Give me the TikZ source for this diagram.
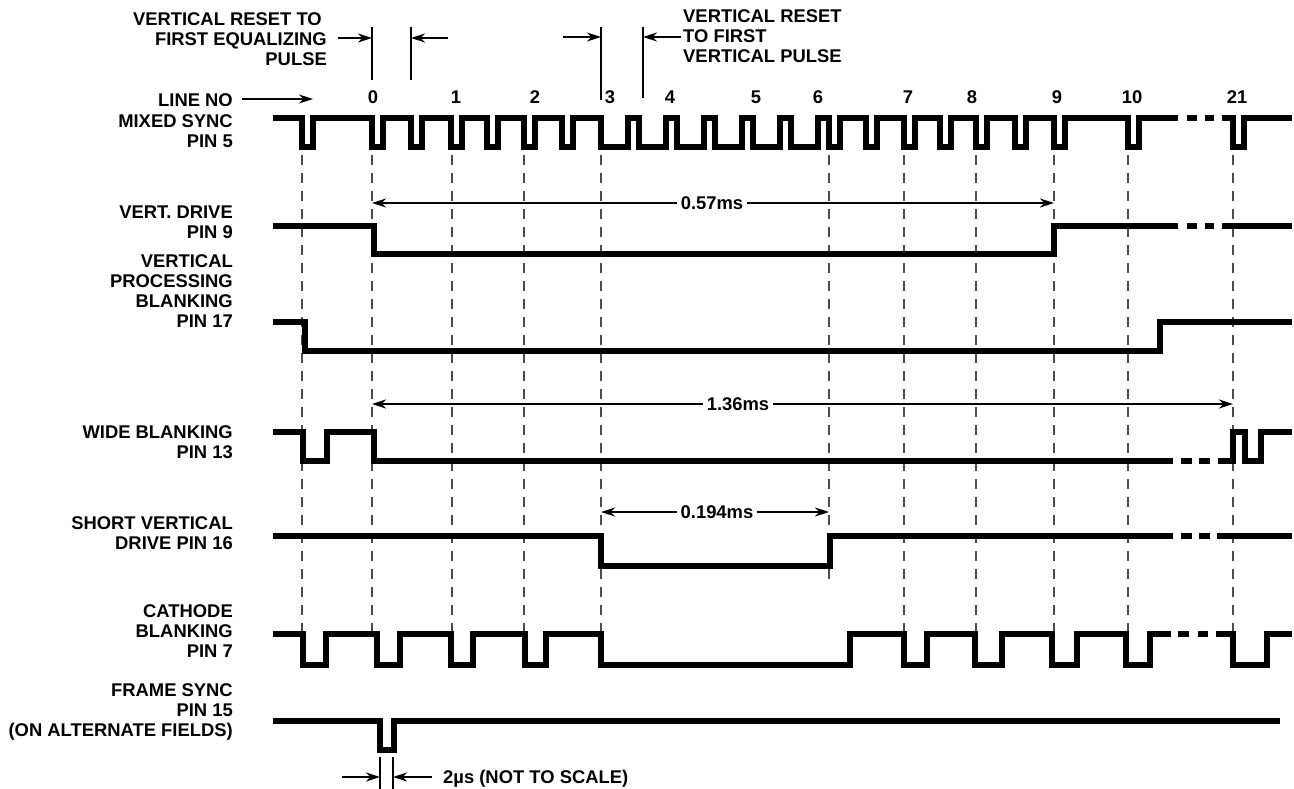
\documentclass[tikz,border=0pt]{standalone}
\usepackage{fontspec}
\setmainfont{Liberation Sans}
\usetikzlibrary{arrows.meta}
\begin{document}
\begin{tikzpicture}[x=1pt,y=-1pt,
  font=\fontsize{18.4}{20}\selectfont\bfseries,
  wave/.style={line width=5.5pt,line join=miter,line cap=butt},
  thinline/.style={line width=1.3pt},
  arr/.style={thinline,-{Stealth[length=14pt,width=9pt,inset=4.5pt]}},
  dimarr/.style={thinline,{Stealth[length=14pt,width=9pt,inset=4.5pt]}-{Stealth[length=14pt,width=9pt,inset=4.5pt]}},
  gridline/.style={line width=1.2pt,black!70,dash pattern=on 10pt off 8pt},
  lbl/.style={anchor=base east,inner sep=0pt},
  lblw/.style={anchor=base west,inner sep=0pt},
  num/.style={anchor=base,inner sep=0pt},
  dimtxt/.style={fill=white,inner sep=4pt}]
\useasboundingbox (0,0) rectangle (1294,789);

% dashed verticals
\foreach \x/\b [count=\i] in {302/634,372/634,452/634,524/634,601/634,829/581,904/634,976/634,1054/634,1128/634,1233/634}{
  \coordinate (gt\i) at (\x,155);
  \coordinate (gb\i) at (\x,\b);
  \draw[gridline] (gt\i) -- (gb\i);
}

% top annotations
\node[lbl] (ta1) at (322,26) {VERTICAL RESET TO};
\node[lbl] (ta2) at (327,46) {FIRST EQUALIZING};
\node[lbl] (ta3) at (327,66) {PULSE};
\coordinate (v1t) at (372,27); \coordinate (v1b) at (372,80);
\coordinate (v2t) at (411,27); \coordinate (v2b) at (411,80);
\draw[thinline] (v1t) -- (v1b);
\draw[thinline] (v2t) -- (v2b);
\coordinate (a1s) at (338,38); \coordinate (a1e) at (372,38);
\coordinate (a2s) at (448,38); \coordinate (a2e) at (411,38);
\draw[arr] (a1s) -- (a1e);
\draw[arr] (a2s) -- (a2e);

\coordinate (v3t) at (601,27); \coordinate (v3b) at (601,100);
\coordinate (v4t) at (643,27); \coordinate (v4b) at (643,98);
\draw[thinline] (v3t) -- (v3b);
\draw[thinline] (v4t) -- (v4b);
\coordinate (a3s) at (563,37); \coordinate (a3e) at (601,37);
\coordinate (a4s) at (681,37); \coordinate (a4e) at (643,37);
\draw[arr] (a3s) -- (a3e);
\draw[arr] (a4s) -- (a4e);
\node[lblw] (tb1) at (683,23) {VERTICAL RESET};
\node[lblw] (tb2) at (683,43) {TO FIRST};
\node[lblw] (tb3) at (683,63) {VERTICAL PULSE};

% line numbers
\foreach \x/\t [count=\i] in {373/0,456/1,535/2,610/3,670/4,756/5,818/6,908/7,972/8,1057/9,1132/10,1237/21}{
  \node[num] (n\i) at (\x,103.5) {\t};
}
\node[lbl] (lineno) at (233,106.5) {LINE NO};
\coordinate (lna) at (242,99); \coordinate (lnb) at (313,99);
\draw[arr] (lna) -- (lnb);

% left labels
\node[lbl] (l1) at (233,127.5) {MIXED SYNC};
\node[lbl] (l2) at (233,147.5) {PIN 5};
\node[lbl] (l3) at (233,218.5) {VERT. DRIVE};
\node[lbl] (l4) at (233,238.5) {PIN 9};
\node[lbl] (l5) at (233,267.5) {VERTICAL};
\node[lbl] (l6) at (233,287.5) {PROCESSING};
\node[lbl] (l7) at (233,307.5) {BLANKING};
\node[lbl] (l8) at (233,327.5) {PIN 17};
\node[lbl] (l9) at (233,438.5) {WIDE BLANKING};
\node[lbl] (l10) at (233,458.5) {PIN 13};
\node[lbl] (l11) at (233,529.5) {SHORT VERTICAL};
\node[lbl] (l12) at (233,549.5) {DRIVE PIN 16};
\node[lbl] (l13) at (233,617.5) {CATHODE};
\node[lbl] (l14) at (233,637.5) {BLANKING};
\node[lbl] (l15) at (233,657.5) {PIN 7};
\node[lbl] (l16) at (233,696.5) {FRAME SYNC};
\node[lbl] (l17) at (233,716.5) {PIN 15};
\node[lbl] (l18) at (233,736.5) {(ON ALTERNATE FIELDS)};

% MIXED SYNC
\draw[wave] (273,118)
 -- (302,118) -- (302,147) -- (313,147) -- (313,118)
 -- (372,118) -- (372,147) -- (383,147) -- (383,118)
 -- (411,118) -- (411,147) -- (422,147) -- (422,118)
 -- (451,118) -- (451,147) -- (462,147) -- (462,118)
 -- (487,118) -- (487,147) -- (498,147) -- (498,118)
 -- (524,118) -- (524,147) -- (535,147) -- (535,118)
 -- (562,118) -- (562,147) -- (573,147) -- (573,118)
 -- (601,118) -- (601,147) -- (628,147) -- (628,118)
 -- (639,118) -- (639,147) -- (666,147) -- (666,118)
 -- (677,118) -- (677,147) -- (704,147) -- (704,118)
 -- (715,118) -- (715,147) -- (742,147) -- (742,118)
 -- (753,118) -- (753,147) -- (780,147) -- (780,118)
 -- (791,118) -- (791,147) -- (818,147) -- (818,118)
 -- (829,118) -- (829,147) -- (840,147) -- (840,118)
 -- (866,118) -- (866,147) -- (877,147) -- (877,118)
 -- (904,118) -- (904,147) -- (915,147) -- (915,118)
 -- (940,118) -- (940,147) -- (951,147) -- (951,118)
 -- (976,118) -- (976,147) -- (987,147) -- (987,118)
 -- (1015,118) -- (1015,147) -- (1026,147) -- (1026,118)
 -- (1054,118) -- (1054,147) -- (1065,147) -- (1065,118)
 -- (1128,118) -- (1128,147) -- (1139,147) -- (1139,118)
 -- (1178,118);
\draw[wave] (1187,118) -- (1197,118);
\draw[wave] (1205,118) -- (1214,118);
\draw[wave] (1222,118) -- (1233,118) -- (1233,147) -- (1244,147) -- (1244,118) -- (1292,118);

% VERT. DRIVE
\draw[wave] (273,226) -- (374,226) -- (374,254) -- (1054,254) -- (1054,226) -- (1178,226);
\draw[wave] (1187,226) -- (1197,226);
\draw[wave] (1205,226) -- (1214,226);
\draw[wave] (1222,226) -- (1292,226);

% VERTICAL PROCESSING BLANKING
\draw[wave] (273,322) -- (305,322) -- (305,351) -- (1160,351) -- (1160,322) -- (1292,322);

% WIDE BLANKING
\draw[wave] (273,432) -- (303,432) -- (303,461) -- (327,461) -- (327,432) -- (374,432) -- (374,461) -- (1173,461);
\draw[wave] (1181,461) -- (1192,461);
\draw[wave] (1199,461) -- (1210,461);
\draw[wave] (1218,461) -- (1233,461) -- (1233,432) -- (1245,432) -- (1245,461) -- (1261,461) -- (1261,432) -- (1292,432);

% 1.36ms dimension
\coordinate (d2a) at (372,404); \coordinate (d2b) at (1233,404);
\draw[dimarr] (d2a) -- (d2b);
\node[dimtxt] (d2t) at (738,404) {1.36ms};

% 0.57ms dimension
\coordinate (d1a) at (372,203); \coordinate (d1b) at (1054,203);
\draw[dimarr] (d1a) -- (d1b);
\node[dimtxt] (d1t) at (712,203) {0.57ms};

% SHORT VERTICAL DRIVE
\draw[wave] (273,536) -- (601,536) -- (601,566) -- (830,566) -- (830,536) -- (1173,536);
\draw[wave] (1181,536) -- (1192,536);
\draw[wave] (1199,536) -- (1210,536);
\draw[wave] (1217,536) -- (1292,536);

% 0.194ms dimension
\coordinate (d3a) at (601,512); \coordinate (d3b) at (829,512);
\draw[dimarr] (d3a) -- (d3b);
\node[dimtxt] (d3t) at (717,512) {0.194ms};

% CATHODE BLANKING
\draw[wave] (273,634)
 -- (303,634) -- (303,665) -- (326,665) -- (326,634)
 -- (377,634) -- (377,665) -- (400,665) -- (400,634)
 -- (451,634) -- (451,665) -- (473,665) -- (473,634)
 -- (525,634) -- (525,665) -- (546,665) -- (546,634)
 -- (601,634) -- (601,665) -- (850,665) -- (850,634)
 -- (904,634) -- (904,665) -- (927,665) -- (927,634)
 -- (975,634) -- (975,665) -- (1002,665) -- (1002,634)
 -- (1052,634) -- (1052,665) -- (1077,665) -- (1077,634)
 -- (1126,634) -- (1126,665) -- (1150,665) -- (1150,634)
 -- (1171,634);
\draw[wave] (1178,634) -- (1189,634);
\draw[wave] (1198,634) -- (1208,634);
\draw[wave] (1216,634) -- (1233,634) -- (1233,665) -- (1267,665) -- (1267,634) -- (1292,634);

% FRAME SYNC
\draw[wave] (273,721) -- (380,721) -- (380,750) -- (394,750) -- (394,721) -- (1280,721);

% 2us annotation
\coordinate (w1t) at (380,757); \coordinate (w1b) at (380,789);
\coordinate (w2t) at (393,757); \coordinate (w2b) at (393,789);
\draw[thinline] (w1t) -- (w1b);
\draw[thinline] (w2t) -- (w2b);
\coordinate (b1s) at (342,777); \coordinate (b1e) at (380,777);
\coordinate (b2s) at (432,777); \coordinate (b2e) at (393,777);
\draw[arr] (b1s) -- (b1e);
\draw[arr] (b2s) -- (b2e);
\node[lblw] (us) at (443,783.5) {2µs (NOT TO SCALE)};
\end{tikzpicture}
\end{document}
